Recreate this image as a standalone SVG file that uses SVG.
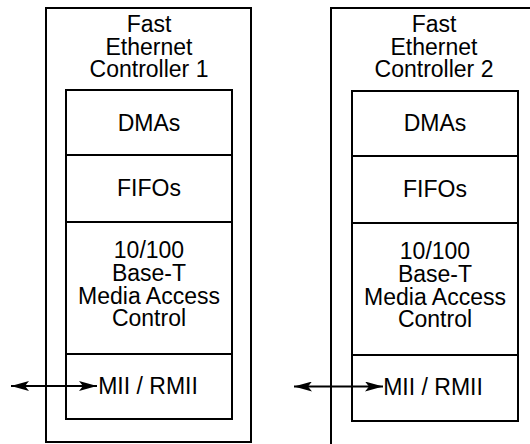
<svg xmlns="http://www.w3.org/2000/svg" width="530" height="444" viewBox="0 0 530 444">
<style>
.b{fill:none;stroke:#000;stroke-width:2}
.t{font-family:"Liberation Sans",Arial,sans-serif;font-size:23px;fill:#000;text-anchor:middle}
.c{stroke:#000;stroke-width:2;fill:none}
</style>
<defs>
<marker id="ah" viewBox="0 0 18 10" refX="18" refY="5" markerWidth="18" markerHeight="10" markerUnits="userSpaceOnUse" orient="auto-start-reverse">
<path d="M0,0 L18,5 L0,10 L4,5 Z" fill="#000"/>
</marker>
</defs>
<g id="controller1">
<rect class="b" x="46" y="8" width="205" height="434"/>
<text class="t"><tspan x="149" y="32">Fast</tspan><tspan x="149" y="54.5">Ethernet</tspan><tspan x="149" y="77">Controller 1</tspan></text>
<g id="dma1"><rect class="b" x="66" y="90" width="166" height="65"/><text class="t" x="149" y="130.5">DMAs</text></g>
<g id="fifo1"><rect class="b" x="66" y="155" width="166" height="67"/><text class="t" x="149" y="196">FIFOs</text></g>
<g id="mac1"><rect class="b" x="66" y="222" width="166" height="132"/>
<text class="t"><tspan x="149" y="258">10/100</tspan><tspan x="149" y="281">Base-T</tspan><tspan x="149" y="304">Media Access</tspan><tspan x="149" y="326">Control</tspan></text></g>
<g id="mii1"><rect class="b" x="66" y="354" width="166" height="65"/><text class="t" x="148" y="393.5">MII / RMII</text></g>
</g>
<g id="controller2">
<path class="b" d="M331,444 V8 H531"/>
<text class="t"><tspan x="434" y="32">Fast</tspan><tspan x="434" y="54.5">Ethernet</tspan><tspan x="434" y="77">Controller 2</tspan></text>
<g id="dma2"><rect class="b" x="352" y="91" width="166" height="65"/><text class="t" x="435" y="131">DMAs</text></g>
<g id="fifo2"><rect class="b" x="352" y="156" width="166" height="67"/><text class="t" x="435" y="197">FIFOs</text></g>
<g id="mac2"><rect class="b" x="352" y="223" width="166" height="132"/>
<text class="t"><tspan x="435" y="259">10/100</tspan><tspan x="435" y="282">Base-T</tspan><tspan x="435" y="305">Media Access</tspan><tspan x="435" y="327">Control</tspan></text></g>
<g id="mii2"><rect class="b" x="352" y="355" width="166" height="66"/><text class="t" x="433" y="394.5">MII / RMII</text></g>
</g>
<g id="connectors">
<line class="c" x1="11" y1="386" x2="97" y2="386" marker-start="url(#ah)" marker-end="url(#ah)"/>
<line class="c" x1="294" y1="386.5" x2="383" y2="386.5" marker-start="url(#ah)" marker-end="url(#ah)"/>
</g>
</svg>
